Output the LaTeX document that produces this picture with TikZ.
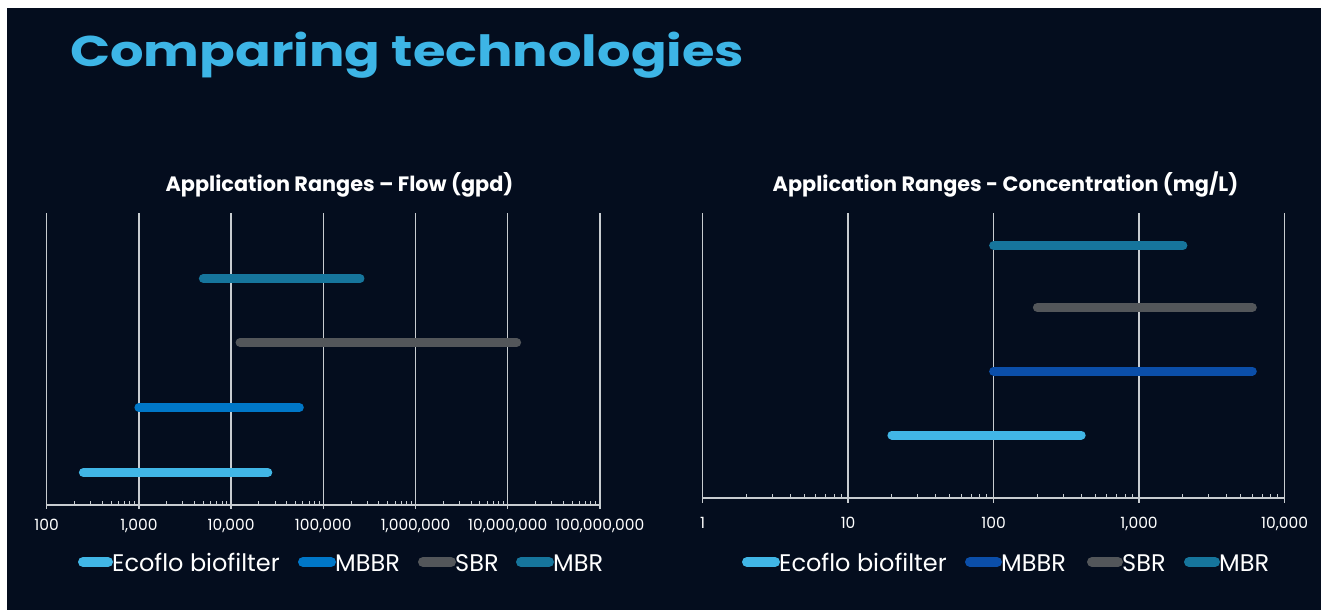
\documentclass[tikz,border=0pt]{standalone}
\usepackage{fontspec}
\usepackage{graphicx}
\setmainfont{Poppins}
\usetikzlibrary{positioning}
\definecolor{bgnavy}{HTML}{040D1E}
\definecolor{titleblue}{HTML}{3DB5E6}
\definecolor{ecoflo}{HTML}{41B6E6}
\definecolor{mbbrA}{HTML}{0077C8}
\definecolor{mbbrB}{HTML}{0B4EA9}
\definecolor{sbr}{HTML}{53565A}
\definecolor{mbr}{HTML}{16759C}
\definecolor{gridgray}{HTML}{C8CCD0}

\tikzset{
  gridline/.style={gridgray, line width=1.3pt},
  minortick/.style={gridgray, line width=1pt},
  rangebar/.style={line width=9pt, line cap=round},
  swatch/.style={line width=10pt, line cap=round},
  ticklabel/.style={white, font=\fontsize{15.5}{15.5}\selectfont, anchor=base},
  charttitle/.style={white, font=\bfseries\fontsize{20.8}{20.8}\selectfont, anchor=base},
  legendtext/.style={white, font=\fontsize{24}{24}\selectfont, anchor=base west, inner sep=0pt}
}

\begin{document}
\begin{tikzpicture}[x=1pt, y=-1pt]
	\useasboundingbox (0,0) rectangle (1323,611);
	\fill[bgnavy] (7,8) rectangle (1321,610);
	
	\node[titleblue, font=\bfseries\fontsize{43}{43}\selectfont, anchor=base west, inner sep=0pt] (title) at (70,66) {\scalebox{1.225}[1]{Comparing technologies}};
	
	% flow chart
	\node[charttitle] (flowtitle) at (339.5,191) {Application Ranges – Flow (gpd)};
	\begin{scope}[shift={(46.7,0)}, x=92.2pt]
		\foreach \d in {0,...,6} {
			\draw[gridline] (\d,213) -- (\d,509);
		};
		\draw[gridline] (0,505) -- (6,505);
		\foreach \d in {0,...,5} {
			\foreach \k in {2,...,9} {
				\draw[minortick] ({\d+ln(\k)/ln(10)},505) -- ++(0,-4);
			};
		};
		\foreach \d/\txt in {0/100,1/{1,000},2/{10,000},3/{100,000},4/{1,000,000},5/{10,000,000},6/{100,000,000}} {
			\node[ticklabel] (flow\d) at (\d,530) {\txt};
		};
		\draw[rangebar, ecoflo] (0.398,472.5) -- (2.398,472.5);
		\draw[rangebar, mbbrA] (1,407.5) -- (2.740,407.5);
		\draw[rangebar, sbr] (2.097,342.5) -- (5.097,342.5);
		\draw[rangebar, mbr] (1.699,278.5) -- (3.398,278.5);
	\end{scope}
	
	% concentration chart
	\node[charttitle] (conctitle) at (1005.5,191) {Application Ranges - Concentration (mg/L)};
	\begin{scope}[shift={(702.6,0)}, x=145.5pt]
		\foreach \d in {0,...,4} {
			\draw[gridline] (\d,213) -- (\d,503);
		};
		\draw[gridline] (0,498) -- (4,498);
		\foreach \d in {0,...,3} {
			\foreach \k in {2,...,9} {
				\draw[minortick] ({\d+ln(\k)/ln(10)},498) -- ++(0,-4);
			};
		};
		\foreach \d/\txt in {0/1,1/10,2/100,3/{1,000},4/{10,000}} {
			\node[ticklabel] (conc\d) at (\d,528) {\txt};
		};
		\draw[rangebar, ecoflo] (1.301,435) -- (2.602,435);
		\draw[rangebar, mbbrB] (2,371) -- (3.778,371);
		\draw[rangebar, sbr] (2.301,307.5) -- (3.778,307.5);
		\draw[rangebar, mbr] (2,245.5) -- (3.301,245.5);
	\end{scope}
	
	% legends
	\node[legendtext] (flowlegA) at (112,571) {Ecoflo biofilter};
	\node[legendtext] (flowlegB) at (335,571) {MBBR};
	\node[legendtext] (flowlegC) at (455,571) {SBR};
	\node[legendtext] (flowlegD) at (553,571) {MBR};
	\draw[swatch, ecoflo] (83,562) -- ([xshift=-4pt]flowlegA.west |- 0,562);
	\draw[swatch, mbbrA] (303,562) -- ([xshift=-4pt]flowlegB.west |- 0,562);
	\draw[swatch, sbr] (423,562) -- ([xshift=-4pt]flowlegC.west |- 0,562);
	\draw[swatch, mbr] (521,562) -- ([xshift=-4pt]flowlegD.west |- 0,562);
	
	\node[legendtext] (conclegA) at (779,571) {Ecoflo biofilter};
	\node[legendtext] (conclegB) at (1001,571) {MBBR};
	\node[legendtext] (conclegC) at (1122,571) {SBR};
	\node[legendtext] (conclegD) at (1219,571) {MBR};
	\draw[swatch, ecoflo] (747,562) -- ([xshift=-4pt]conclegA.west |- 0,562);
	\draw[swatch, mbbrB] (970,562) -- ([xshift=-4pt]conclegB.west |- 0,562);
	\draw[swatch, sbr] (1092,562) -- ([xshift=-4pt]conclegC.west |- 0,562);
	\draw[swatch, mbr] (1189,562) -- ([xshift=-4pt]conclegD.west |- 0,562);
\end{tikzpicture}
\end{document}
